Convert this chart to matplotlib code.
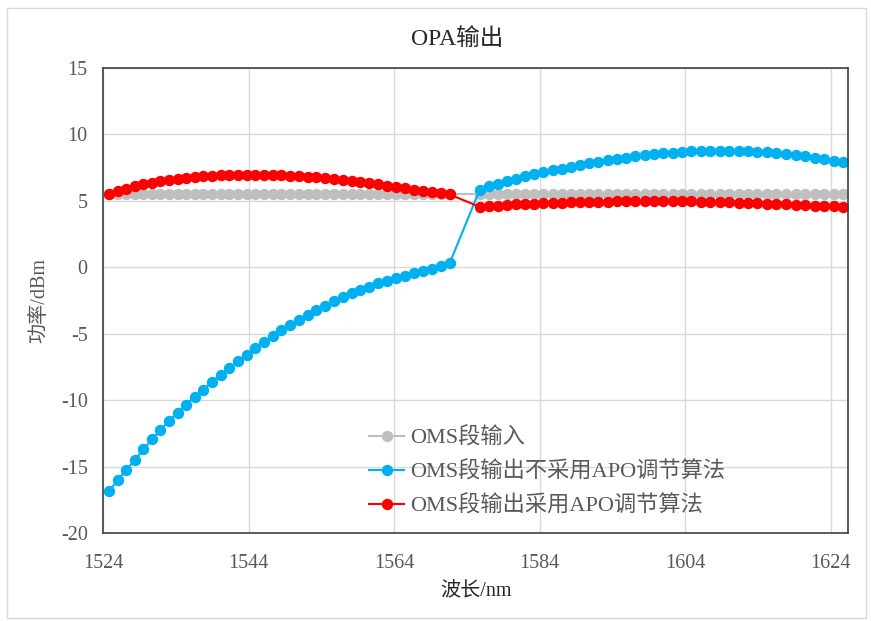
import matplotlib
matplotlib.use("Agg")
import matplotlib.pyplot as plt
from matplotlib.patches import Rectangle

plt.rcParams["font.family"] = ["Liberation Serif", "Noto Sans CJK SC"]
plt.rcParams["axes.unicode_minus"] = False

# channel wavelengths (nm), C band then L band
wl_c = [1524.88, 1526.05, 1527.21, 1528.38, 1529.55, 1530.72, 1531.90, 1533.07,
        1534.25, 1535.43, 1536.61, 1537.79, 1538.98, 1540.16, 1541.35, 1542.54,
        1543.73, 1544.92, 1546.12, 1547.32, 1548.51, 1549.72, 1550.92, 1552.12,
        1553.33, 1554.54, 1555.75, 1556.96, 1558.17, 1559.39, 1560.61, 1561.83,
        1563.05, 1564.27, 1565.50, 1566.73, 1567.96, 1569.19, 1570.42, 1571.65]
wl_l = [1575.78, 1577.03, 1578.27, 1579.52, 1580.77, 1582.02, 1583.27, 1584.53,
        1585.79, 1587.04, 1588.30, 1589.57, 1590.83, 1592.10, 1593.37, 1594.64,
        1595.91, 1597.19, 1598.47, 1599.75, 1601.03, 1602.31, 1603.60, 1604.88,
        1606.17, 1607.47, 1608.76, 1610.06, 1611.36, 1612.66, 1613.96, 1615.26,
        1616.57, 1617.88, 1619.19, 1620.50, 1621.81, 1623.13, 1624.45, 1625.77]

oms_in_c = [5.5] * 40
oms_in_l = [5.5] * 40

no_apo_c = [-16.83, -16.0, -15.25, -14.5, -13.7, -12.95, -12.25, -11.57, -10.95, -10.35,
            -9.75, -9.2, -8.65, -8.1, -7.6, -7.05, -6.6, -6.1, -5.65, -5.2,
            -4.75, -4.37, -3.97, -3.6, -3.25, -2.9, -2.57, -2.25, -1.95, -1.7,
            -1.45, -1.22, -1.02, -0.82, -0.65, -0.45, -0.27, -0.1, 0.08, 0.3]
no_apo_l = [5.84, 6.09, 6.29, 6.49, 6.67, 6.84, 6.99, 7.14, 7.29, 7.42,
            7.57, 7.69, 7.82, 7.92, 8.05, 8.14, 8.25, 8.35, 8.42, 8.5,
            8.57, 8.62, 8.67, 8.72, 8.75, 8.77, 8.78, 8.78, 8.77, 8.75,
            8.7, 8.65, 8.6, 8.52, 8.45, 8.35, 8.25, 8.14, 8.02, 7.9]

apo_c = [5.55, 5.74, 5.92, 6.09, 6.24, 6.37, 6.49, 6.59, 6.67, 6.74,
         6.79, 6.84, 6.89, 6.91, 6.93, 6.95, 6.95, 6.96, 6.96, 6.95,
         6.93, 6.9, 6.87, 6.82, 6.77, 6.71, 6.64, 6.56, 6.49, 6.42,
         6.34, 6.25, 6.15, 6.05, 5.95, 5.85, 5.76, 5.67, 5.58, 5.48]
apo_l = [4.55, 4.6, 4.65, 4.69, 4.73, 4.76, 4.79, 4.82, 4.85, 4.87,
         4.89, 4.91, 4.93, 4.94, 4.95, 4.96, 4.97, 4.98, 4.98, 4.98,
         4.98, 4.98, 4.97, 4.96, 4.95, 4.93, 4.91, 4.89, 4.87, 4.85,
         4.82, 4.79, 4.76, 4.73, 4.7, 4.67, 4.64, 4.61, 4.58, 4.55]

labels = ["OMS段输入", "OMS段输出不采用APO调节算法", "OMS段输出采用APO调节算法"]
colors = ["#BFBFBF", "#00B0F0", "#FF0000"]
x_ticks = [1524, 1544, 1564, 1584, 1604, 1624]
y_ticks = [-20, -15, -10, -5, 0, 5, 10, 15]

text_color = "#595959"
grid_color = "#D9D9D9"

fig = plt.figure(figsize=(8.71, 6.21), dpi=100)
fig.patches.append(Rectangle((7 / 871, 3 / 621), 859 / 871, 610 / 621,
                             transform=fig.transFigure, fill=False,
                             edgecolor=grid_color, linewidth=1))
ax = fig.add_axes([103 / 871, 1 - 533 / 621, 745 / 871, 465 / 621])

wl = wl_c + wl_l
series = [oms_in_c + oms_in_l, no_apo_c + no_apo_l, apo_c + apo_l]
for ys, lab, col in zip(series, labels, colors):
    ax.plot(wl, ys, color=col, lw=1.5, marker="o", markersize=8.2,
            markeredgewidth=0, label=lab)

ax.set_xlim(1524, 1626.4)
ax.set_ylim(-20, 15)
ax.set_xticks(x_ticks)
ax.set_yticks(y_ticks)
ax.grid(True, color=grid_color, lw=1)
ax.set_axisbelow(True)
ax.tick_params(length=0, labelsize=14.5, labelcolor=text_color)
ax.tick_params(axis="x", pad=15)
ax.tick_params(axis="y", pad=11)
for s in ax.spines.values():
    s.set_color("#404040")
    s.set_linewidth(1.2)

ax.set_xlabel("波长/nm", fontsize=14.5, color="#262626", labelpad=7)
ax.set_ylabel("功率/dBm", fontsize=14.5, color=text_color, labelpad=8)
fig.text(457 / 871, 1 - 39 / 621, "OPA输出", fontsize=17, color="#262626",
         ha="center", va="center")

leg = ax.legend(loc="upper left", bbox_to_anchor=(0.33, 0.27), frameon=False,
                fontsize=16, handlelength=1.6, labelspacing=0.56,
                handletextpad=0.25)
for t in leg.get_texts():
    t.set_color(text_color)

fig.savefig("out.png", dpi=100)
